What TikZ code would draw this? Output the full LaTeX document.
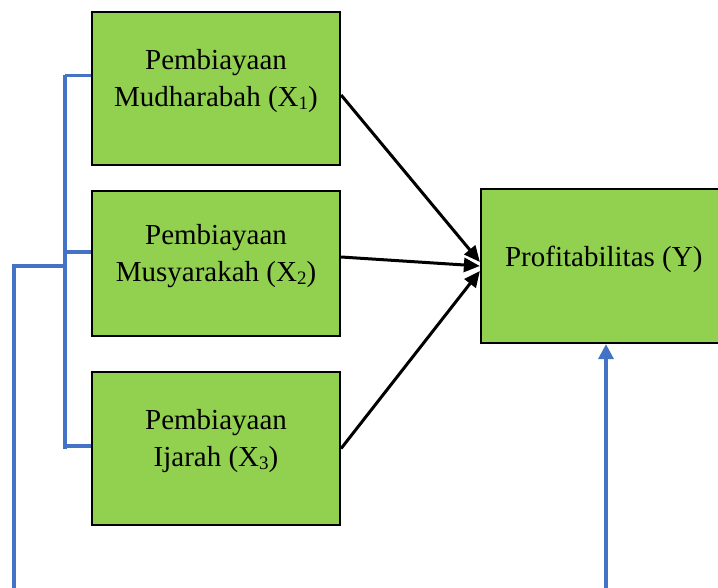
\documentclass[tikz,border=0pt]{standalone}
\usepackage{fontspec}
\setmainfont{Liberation Serif}
\usetikzlibrary{arrows.meta}
\definecolor{boxgreen}{HTML}{92D050}
\definecolor{linkblue}{HTML}{4472C4}
\newcommand{\subx}[1]{\raisebox{-3pt}{\fontsize{19}{19}\selectfont #1}}
\begin{document}
\begin{tikzpicture}[x=1pt,y=-1pt,
  varbox/.style={draw=black, line width=2.2pt, fill=boxgreen, minimum width=248pt, inner sep=0pt},
  vartext/.style={align=center, font=\fontsize{29}{37}\selectfont, inner sep=0pt},
  blk/.style={draw=black, line width=3pt, -{Triangle[length=16pt,width=14pt]}},
  blu/.style={draw=linkblue, line width=3.3pt}
]
\useasboundingbox (0,0) rectangle (718,588);
\node[varbox, minimum height=153pt] (b1) at (216,88.5) {};
\node[varbox, minimum height=145pt] (b2) at (216,263.5) {};
\node[varbox, minimum height=153pt] (b3) at (216,448.5) {};
\node[varbox, minimum width=244pt, minimum height=154pt] (y) at (603,266) {};
\node[vartext] (t1txt) at ([yshift=7pt]b1.center) {Pembiayaan\\Mudharabah (X\subx{1})};
\node[vartext] (t2txt) at ([yshift=7pt]b2.center) {Pembiayaan\\Musyarakah (X\subx{2})};
\node[vartext] (t3txt) at ([yshift=7pt]b3.center) {Pembiayaan\\Ijarah (X\subx{3})};
\node[vartext, anchor=west] (ytxt) at ([xshift=25pt,yshift=7pt]y.west) {Profitabilitas (Y)};
% black arrows
\draw[blk] ([yshift=-6.5pt]b1.east) -- ([yshift=4pt]y.west);
\draw[blk] ([yshift=6.5pt]b2.east) -- (y.west);
\draw[blk] (b3.east) -- ([yshift=-5pt]y.west);
% blue bracket
\coordinate (t1) at (65,75.5);
\coordinate (t2) at (65,252);
\coordinate (t3) at (65,446);
\coordinate (tb) at (65,449);
\coordinate (m) at (67,266);
\coordinate (l1) at (14,266);
\coordinate (l2) at (14,588);
\draw[blu] (t1) -- (tb);
\draw[blu] (t1) -- (t1 -| b1.west);
\draw[blu] (t2) -- (t2 -| b2.west);
\draw[blu] (t3) -- (t3 -| b3.west);
\draw[blu] (m) -- (l1) -- (l2);
% blue arrow
\coordinate (ba) at (606,588);
\draw[blu, -{Triangle[length=15pt,width=15pt]}] (ba) -- (ba |- y.south);
\end{tikzpicture}
\end{document}
